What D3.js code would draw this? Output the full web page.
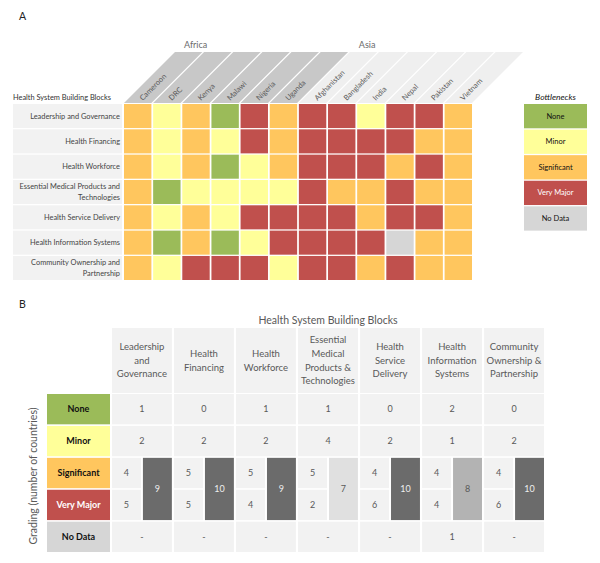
<!DOCTYPE html>
<html><head><meta charset="utf-8">
<script src="https://cdn.jsdelivr.net/npm/d3@7"></script>
<style>body{margin:0;background:#fff}svg{display:block;font-family:Lato,'Open Sans',sans-serif}</style>
</head><body><svg id="c" width="600" height="563"></svg>
<script>
// ---------- DATA ----------
const countries = ["Cameroon","DRC","Kenya","Malawi","Nigeria","Uganda","Afghanistan","Bangladesh","India","Nepal","Pakistan","Vietnam"];
const countryRegion = ["Africa","Africa","Africa","Africa","Africa","Africa","Asia","Asia","Asia","Asia","Asia","Asia"];
const regions = ["Africa","Asia"];
const buildingBlocks = ["Leadership and Governance","Health Financing","Health Workforce","Essential Medical Products and Technologies","Health Service Delivery","Health Information Systems","Community Ownership and Partnership"];
const blockLabelsA = [["Leadership and Governance"],["Health Financing"],["Health Workforce"],["Essential Medical Products and","Technologies"],["Health Service Delivery"],["Health Information Systems"],["Community Ownership and","Partnership"]];
const blockLabelsB = [["Leadership","and","Governance"],["Health","Financing"],["Health","Workforce"],["Essential","Medical","Products &","Technologies"],["Health","Service","Delivery"],["Health","Information","Systems"],["Community","Ownership &","Partnership"]];
const grades = ["None","Minor","Significant","Very Major","No Data"];
const gradeCodes = ["N","M","S","V","D"];
const gradeColors = ["#9bbb59","#ffff99","#ffc65e","#c0504d","#d6d6d6"];
const gradeTextColors = ["#111","#111","#111","#fff","#111"];
// grades per building block, in country order (N=None, M=Minor, S=Significant, V=Very Major, D=No Data)
const leadershipGovernance = ["S","M","S","N","V","S","V","V","M","V","V","S"];
const healthFinancing      = ["S","M","S","M","V","S","V","V","V","V","S","S"];
const healthWorkforce      = ["S","M","S","N","M","S","V","V","V","S","V","S"];
const essentialMedical     = ["S","N","M","M","M","M","V","S","S","V","S","S"];
const serviceDelivery      = ["S","M","S","M","V","V","V","V","S","V","V","S"];
const informationSystems   = ["S","N","S","N","M","V","V","V","V","D","S","S"];
const communityOwnership   = ["S","M","V","V","V","M","V","V","S","V","S","S"];
const gradeRows = [leadershipGovernance,healthFinancing,healthWorkforce,essentialMedical,serviceDelivery,informationSystems,communityOwnership];

// ---------- SETUP ----------
const svg = d3.select("#c");
const gColor = d3.scaleOrdinal().domain(gradeCodes).range(gradeColors);
const gText = d3.scaleOrdinal().domain(grades).range(gradeTextColors);
const gFill = d3.scaleOrdinal().domain(grades).range(gradeColors);
const labelGray = "#595959";

// ---------- PANEL A ----------
svg.append("text").attr("x",19).attr("y",20).attr("font-size",10.5).attr("fill","#222").text("A");

const x = d3.scaleBand().domain(countries).range([124,472]).paddingInner(0.06);
const y = d3.scaleBand().domain(buildingBlocks).range([104,280]).paddingInner(0.05);

// row labels
const rowG = svg.append("g");
buildingBlocks.forEach((b,i)=>{
  rowG.append("rect").attr("x",13).attr("y",y(b)).attr("width",109).attr("height",y.bandwidth()).attr("fill","#f2f2f2");
  const lines = blockLabelsA[i];
  const cy = y(b)+y.bandwidth()/2;
  lines.forEach((ln,j)=>{
    rowG.append("text").attr("x",120).attr("y",cy+(j-(lines.length-1)/2)*11+2.5)
      .attr("text-anchor","end").attr("font-size",7.4).attr("fill","#444").text(ln);
  });
});
svg.append("text").attr("x",13).attr("y",100).attr("font-size",7.4).attr("fill","#333").text("Health System Building Blocks");

// slanted column headers
const yb0 = 103, yt0 = 52, sh = yb0-yt0;
const headG = svg.append("g");
countries.forEach((c,i)=>{
  const x0 = x(c), w = x.bandwidth();
  headG.append("path")
    .attr("d",`M${x0},${yb0}L${x0+w},${yb0}L${x0+w+sh},${yt0}L${x0+sh},${yt0}Z`)
    .attr("fill", countryRegion[i]==="Africa" ? "#c8c8c8" : "#efefef");
  const ax = x0 + w/2 + 5, ay = 101;
  headG.append("text").attr("transform",`translate(${ax},${ay}) rotate(-45)`)
    .attr("font-size",7.5).attr("fill",labelGray).text(c);
});
regions.forEach(r=>{
  const first = countries[countryRegion.indexOf(r)];
  svg.append("text").attr("x",x(first)+sh+9).attr("y",48).attr("font-size",9).attr("fill","#6b6b6b").text(r);
});

// heatmap cells
const cells = [];
gradeRows.forEach((row,i)=>row.forEach((g,j)=>cells.push({b:buildingBlocks[i],c:countries[j],g})));
svg.append("g").selectAll("rect").data(cells).join("rect")
  .attr("x",d=>x(d.c)).attr("y",d=>y(d.b)).attr("width",x.bandwidth()).attr("height",y.bandwidth())
  .attr("fill",d=>gColor(d.g));

// legend
const ly = d3.scaleBand().domain(grades).range([104,104+5*y.step()]).paddingInner(0.05);
const lg = svg.append("g");
lg.append("text").attr("x",555.5).attr("y",100).attr("text-anchor","middle").attr("font-size",8.5)
  .attr("font-style","italic").attr("fill","#111").text("Bottlenecks");
grades.forEach(g=>{
  lg.append("rect").attr("x",524).attr("y",ly(g)).attr("width",63).attr("height",ly.bandwidth()).attr("fill",gFill(g));
  lg.append("text").attr("x",555.5).attr("y",ly(g)+ly.bandwidth()/2+2.6).attr("text-anchor","middle")
    .attr("font-size",7.5).attr("fill",gText(g)).text(g);
});

// ---------- PANEL B ----------
svg.append("text").attr("x",19).attr("y",308).attr("font-size",10.5).attr("fill","#222").text("B");

// counts derived from panel A grades
const counts = gradeRows.map(row=>gradeCodes.map(code=>row.filter(v=>v===code).length));

const xb = d3.scaleBand().domain(buildingBlocks).range([112,544]).paddingInner(0.035);
const yg = d3.scaleBand().domain(grades).range([394,552]).paddingInner(0.05);
const totalFill = d3.scaleThreshold().domain([8,9]).range(["#e0e0e0","#b3b3b3","#6b6b6b"]);
const totalText = d3.scaleThreshold().domain([9]).range([labelGray,"#eeeeee"]);

svg.append("text").attr("x",328).attr("y",324).attr("text-anchor","middle").attr("font-size",10.5)
  .attr("fill",labelGray).text("Health System Building Blocks");
svg.append("text").attr("transform","translate(37,476) rotate(-90)").attr("text-anchor","middle")
  .attr("font-size",10.5).attr("fill",labelGray).text("Grading (number of countries)");

const bg = svg.append("g");
// grade label boxes
grades.forEach(g=>{
  bg.append("rect").attr("x",47).attr("y",yg(g)).attr("width",63).attr("height",yg.bandwidth()).attr("fill",gFill(g));
  bg.append("text").attr("x",78.5).attr("y",yg(g)+yg.bandwidth()/2+3.2).attr("text-anchor","middle")
    .attr("font-size",9).attr("font-weight","bold").attr("fill",gText(g)).text(g);
});

buildingBlocks.forEach((b,i)=>{
  const x0 = xb(b), w = xb.bandwidth();
  // header
  bg.append("rect").attr("x",x0).attr("y",328).attr("width",w).attr("height",65).attr("fill","#f2f2f2");
  const lines = blockLabelsB[i];
  lines.forEach((ln,j)=>{
    bg.append("text").attr("x",x0+w/2).attr("y",360.5+(j-(lines.length-1)/2)*13.6+3.3)
      .attr("text-anchor","middle").attr("font-size",9.5).attr("fill",labelGray).text(ln);
  });
  const cnt = counts[i];
  // None, Minor, No Data full cells
  [0,1,4].forEach(k=>{
    const g = grades[k];
    bg.append("rect").attr("x",x0).attr("y",yg(g)).attr("width",w).attr("height",yg.bandwidth()).attr("fill","#f2f2f2");
    const txt = (k===4 && cnt[k]===0) ? "-" : String(cnt[k]);
    bg.append("text").attr("x",x0+w/2).attr("y",yg(g)+yg.bandwidth()/2+3.2).attr("text-anchor","middle")
      .attr("font-size",9).attr("fill",labelGray).text(txt);
  });
  // Significant & Very Major split cells
  [2,3].forEach(k=>{
    const g = grades[k];
    bg.append("rect").attr("x",x0).attr("y",yg(g)).attr("width",w/2-1).attr("height",yg.bandwidth()).attr("fill","#f2f2f2");
    bg.append("text").attr("x",x0+(w/2-1)/2).attr("y",yg(g)+yg.bandwidth()/2+3.2).attr("text-anchor","middle")
      .attr("font-size",9).attr("fill",labelGray).text(cnt[k]);
  });
  const total = cnt[2]+cnt[3];
  const by0 = yg("Significant"), by1 = yg("Very Major")+yg.bandwidth();
  bg.append("rect").attr("x",x0+w/2+1).attr("y",by0).attr("width",w/2-1).attr("height",by1-by0).attr("fill",totalFill(total));
  bg.append("text").attr("x",x0+w/2+1+(w/2-1)/2).attr("y",(by0+by1)/2+3.2).attr("text-anchor","middle")
    .attr("font-size",9).attr("fill",totalText(total)).text(total);
});
</script></body></html>
